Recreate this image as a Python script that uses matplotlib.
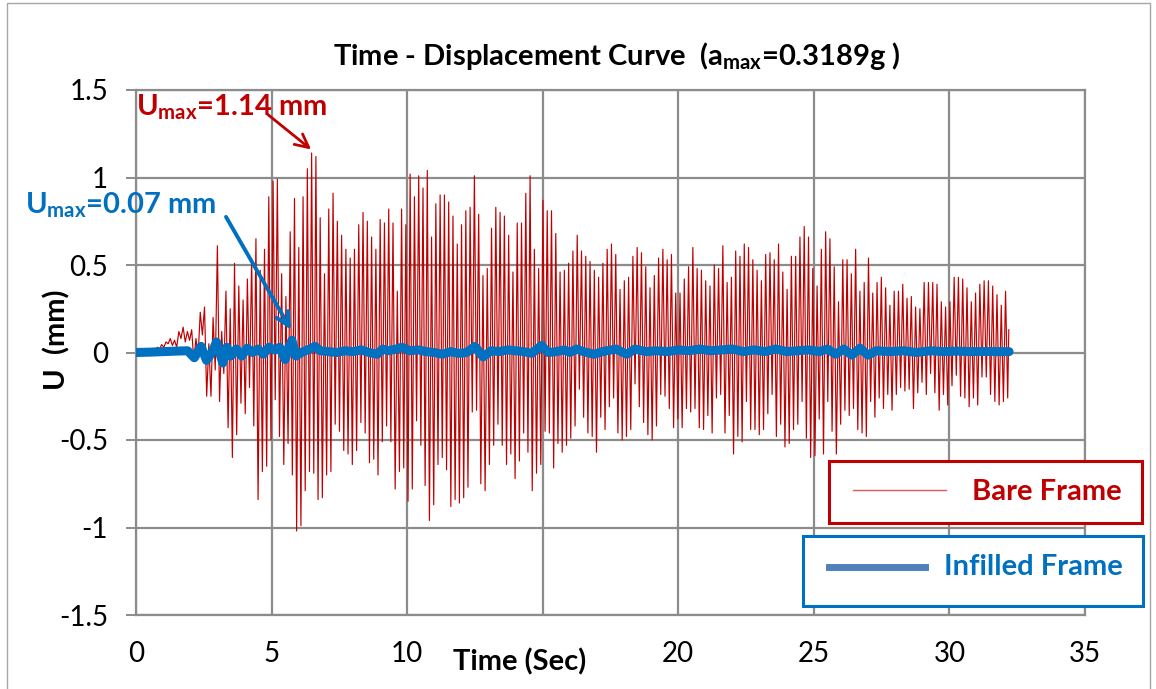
import numpy as np
import matplotlib
matplotlib.use("Agg")
import matplotlib.pyplot as plt
from matplotlib.patches import Rectangle
from matplotlib.lines import Line2D

# ---------------------------------------------------------------------------
# Data
# ---------------------------------------------------------------------------
# Bare frame: successive positive / negative displacement peaks (mm)
bare_pos_peaks = [
    0.005, 0.006, 0.008, 0.01, 0.02, 0.03, 0.045, 0.06, 0.08, 0.07,
    0.12, 0.145, 0.12, 0.13, 0.08, 0.23, 0.26, 0.05, 0.20, 0.61,
    0.12, 0.35, 0.25, 0.51, 0.38, 0.30, 0.42, 0.53, 0.65, 0.47,
    0.59, 0.89, 0.98, 0.99, 0.45, 0.32, 0.69, 0.88, 0.60, 0.89,
    1.05, 1.14,
    1.12, 0.77, 0.45, 0.82, 0.91, 0.75, 0.67, 0.59, 0.54, 0.59,
    0.73, 0.80, 0.75, 0.66, 0.59, 0.76, 0.74, 0.82, 0.74, 0.35,
    0.82, 0.73, 1.02, 0.89, 1.01,
    0.94, 1.04, 0.66, 0.85, 0.90, 0.90, 0.86, 0.78, 0.62, 0.73,
    0.81, 0.83, 1.01, 0.79, 0.44, 0.48, 0.71, 0.83, 0.80, 0.78,
    0.67, 0.46, 0.74, 0.74, 0.91, 1.01, 0.59, 0.48, 0.87, 0.81,
    0.81, 0.68, 0.46, 0.47, 0.51, 0.58, 0.67, 0.58, 0.55, 0.52,
    0.47, 0.43, 0.51, 0.59, 0.62, 0.56, 0.36, 0.41, 0.43, 0.55,
    0.60, 0.57, 0.49, 0.37, 0.44, 0.54, 0.59, 0.53, 0.56, 0.34,
    0.34, 0.42, 0.49,
    0.60, 0.48, 0.47, 0.41, 0.38, 0.50, 0.48, 0.61, 0.40, 0.43,
    0.58, 0.55, 0.62, 0.60, 0.53, 0.47, 0.41, 0.56, 0.57, 0.53,
    0.62, 0.46, 0.36, 0.55, 0.55, 0.66, 0.72, 0.66, 0.48, 0.38,
    0.59, 0.69, 0.65,
    0.49, 0.29, 0.53, 0.53, 0.45, 0.59, 0.35, 0.40, 0.54, 0.34,
    0.40, 0.43, 0.37, 0.27, 0.35, 0.35, 0.39, 0.31, 0.32, 0.26,
    0.25, 0.40, 0.40, 0.40, 0.39, 0.29, 0.26, 0.29, 0.43, 0.43,
    0.42, 0.37, 0.29, 0.34, 0.39, 0.41, 0.41, 0.38, 0.33, 0.27,
    0.35,
]
bare_neg_peaks = [
    0.0, 0.0, 0.002, 0.005, 0.01, 0.02, 0.03, 0.05, 0.04, 0.03,
    0.08, 0.06, 0.07, -0.05, -0.02, 0.10, -0.25, -0.25, -0.10, -0.28,
    -0.12, -0.43, -0.60, -0.47, -0.29, -0.35, -0.20, -0.42, -0.84, -0.68,
    -0.65, -0.50, -0.27, -0.48, -0.64, -0.52, -0.70, -1.02, -0.99, -0.79,
    -0.68, -0.69,
    -0.84, -0.83, -0.70, -0.68, -0.41, -0.45, -0.56, -0.58, -0.64, -0.56,
    -0.40, -0.46, -0.63, -0.61, -0.70, -0.51, -0.42, -0.51, -0.78, -0.68,
    -0.66, -0.85, -0.78, -0.39,
    -0.53, -0.76, -0.96, -0.87, -0.64, -0.60, -0.67, -0.88, -0.84, -0.86,
    -0.83, -0.77, -0.34, -0.33, -0.75, -0.79, -0.64, -0.53, -0.41, -0.53,
    -0.64, -0.58, -0.72, -0.62, -0.46, -0.57, -0.79, -0.69, -0.64, -0.45,
    -0.46,
    -0.66, -0.52, -0.57, -0.53, -0.49, -0.42, -0.21, -0.37, -0.46, -0.48,
    -0.57, -0.37, -0.44, -0.31, -0.26, -0.46, -0.50, -0.48, -0.44, -0.18,
    -0.31, -0.40, -0.47, -0.50, -0.42, -0.24, -0.25, -0.32, -0.43, -0.38,
    -0.43, -0.32,
    -0.34, -0.32, -0.43, -0.44, -0.36, -0.46, -0.26, -0.24, -0.46, -0.36,
    -0.58, -0.48, -0.51, -0.28, -0.44, -0.44, -0.47, -0.44, -0.35, -0.24,
    -0.48, -0.41, -0.54, -0.52, -0.44, -0.41, -0.28, -0.49, -0.60, -0.59,
    -0.38, -0.58, -0.28,
    -0.45, -0.58, -0.41, -0.33, -0.36, -0.32, -0.44, -0.46, -0.48, -0.28,
    -0.37, -0.26, -0.32, -0.24, -0.33, -0.24, -0.20, -0.22, -0.21, -0.32,
    -0.23, -0.17, -0.24, -0.12, -0.23, -0.33, -0.24, -0.30, -0.19, -0.13,
    -0.25, -0.26, -0.31, -0.26, -0.30, -0.14, -0.14, -0.24, -0.28, -0.30,
    -0.28, -0.26,
]
bare_first_peak_time = 0.0    # s
bare_last_peak_time = 32.07   # s
bare_end_time = 32.19         # s
bare_end_value = 0.13         # mm

# Infilled frame: time (s) and displacement (mm)
infill_time = [
    0.0, 0.5, 1.0, 1.5, 1.9, 2.15, 2.4, 2.6, 2.8, 2.97, 3.2, 3.35, 3.5,
    3.7, 3.9, 4.1, 4.3, 4.5, 4.7, 4.9, 5.1, 5.3, 5.5, 5.62, 5.75, 5.9,
    6.1, 6.4, 6.6, 6.8, 7.1, 7.4, 7.7, 8.0, 8.3, 8.6, 8.9, 9.1, 9.3,
    9.6, 9.8, 10.1, 10.4, 10.7, 11.0, 11.3, 11.6, 11.9, 12.2, 12.5,
    12.8, 13.1, 13.4, 13.7, 14.0, 14.3, 14.6, 14.95, 15.2, 15.5, 15.8,
    16.0, 16.25, 16.5, 16.9, 17.2, 17.7, 18.1, 18.4, 18.8, 19.2, 19.6,
    20.0, 20.4, 20.8, 21.2, 21.6, 22.0, 22.4, 22.8, 23.2, 23.6, 24.0,
    24.4, 24.8, 25.2, 25.5, 25.8, 26.1, 26.4, 26.7, 27.0, 27.3, 27.8,
    28.3, 28.8, 29.3, 29.8, 30.3, 30.8, 31.3, 31.8, 32.2,
]
infill_disp = [
    0.0, 0.002, 0.005, 0.008, 0.01, -0.03, 0.035, -0.045, 0.0, 0.06,
    -0.06, 0.03, -0.02, 0.02, -0.02, 0.025, 0.0, 0.02, -0.01, 0.03,
    0.015, 0.03, -0.04, 0.02, 0.07, -0.02, 0.0, 0.02, 0.035, 0.01,
    0.005, 0.0, 0.01, 0.005, 0.015, 0.0, -0.01, 0.02, 0.01, 0.02,
    0.03, 0.01, 0.015, 0.005, 0.0, -0.01, 0.005, -0.005, 0.0, 0.035,
    -0.025, 0.01, 0.005, 0.015, 0.01, 0.005, -0.005, 0.04, 0.0, 0.005,
    0.015, 0.0, 0.02, 0.005, -0.01, 0.005, 0.02, -0.01, 0.02, 0.005,
    0.01, 0.005, 0.015, 0.01, 0.02, 0.01, 0.015, 0.02, 0.005, 0.015,
    0.005, 0.02, 0.005, 0.01, 0.015, 0.005, 0.02, -0.01, 0.02, -0.015,
    0.025, -0.015, 0.01, 0.005, 0.01, 0.0, 0.01, 0.005, 0.008, 0.005,
    0.006, 0.005, 0.005,
]

x_ticks = [0, 5, 10, 15, 20, 25, 30, 35]
# the axis title sits over the 15 s position, so that label is left blank
x_tick_labels = ["0", "5", "10", "", "20", "25", "30", "35"]
y_ticks = [-1.5, -1, -0.5, 0, 0.5, 1, 1.5]
y_tick_labels = ["-1.5", "-1", "-0.5", "0", "0.5", "1", "1.5"]

series_names = ["Bare Frame", "Infilled Frame"]
bare_max = 1.14
infill_max = 0.07

# ---------------------------------------------------------------------------
# Build the bare-frame trace by alternating the peaks
# ---------------------------------------------------------------------------
t_pos = np.linspace(bare_first_peak_time, bare_last_peak_time, len(bare_pos_peaks))
half = (t_pos[1] - t_pos[0]) / 2.0
t_neg = t_pos + half
bare_t = np.empty(2 * len(t_pos))
bare_u = np.empty(2 * len(t_pos))
bare_t[0::2], bare_t[1::2] = t_pos, t_neg
bare_u[0::2], bare_u[1::2] = bare_pos_peaks, bare_neg_peaks
bare_t = np.append(bare_t, bare_end_time)
bare_u = np.append(bare_u, bare_end_value)

# ---------------------------------------------------------------------------
# Figure
# ---------------------------------------------------------------------------
plt.rcParams['font.family'] = ['Lato', 'DejaVu Sans']
plt.rcParams['mathtext.default'] = 'regular'

RED = '#C00000'
BLUE = '#0070C0'
GRID = '#8C8C8C'

W, H = 1156, 689
fig = plt.figure(figsize=(W / 100, H / 100), dpi=100)


def fx(px):
    return px / W


def fy(py):
    return 1 - py / H


ax = fig.add_axes([fx(136), fy(615), fx(1085) - fx(136), fy(90) - fy(615)])

ax.plot(bare_t, bare_u, color=RED, lw=0.85, zorder=3)
ax.plot(infill_time, infill_disp, color=BLUE, lw=6.5, solid_capstyle='round',
        solid_joinstyle='round', zorder=4)

ax.set_xlim(0, 35)
ax.set_ylim(-1.5, 1.5)
ax.set_xticks(x_ticks)
ax.set_xticklabels(x_tick_labels)
ax.set_yticks(y_ticks)
ax.set_yticklabels(y_tick_labels)
ax.grid(True, color=GRID, lw=1.6)
ax.set_axisbelow(True)
for s in ax.spines.values():
    s.set_color(GRID)
    s.set_linewidth(1.6)
ax.tick_params(axis='y', length=7, width=1.4, color=GRID, labelsize=20, pad=13)
ax.tick_params(axis='x', length=0, labelsize=20, pad=19)

ax.text((520 - 136) / 949, -(662 - 615) / 525, 'Time (Sec)', transform=ax.transAxes,
        ha='center', va='center', fontsize=21, fontweight='bold')
ax.text((57 - 136) / 949, (615 - 340) / 525, 'U  (mm)', transform=ax.transAxes,
        rotation=90, ha='center', va='center', fontsize=21, fontweight='bold')

fig.text(fx(617), fy(56), 'Time - Displacement Curve  (a$_{max}$=0.3189g )',
         ha='center', va='center', fontsize=21, fontweight='bold')

# Peak annotations
ax.text(0.0, 1.40, 'U$_{max}$=%.2f mm' % bare_max, color=RED, fontsize=21,
        fontweight='bold', ha='left', va='center', clip_on=False)
ax.annotate('', xy=(6.46, 1.16), xytext=(4.86, 1.36),
            arrowprops=dict(arrowstyle='->', color=RED, lw=2.0,
                            mutation_scale=24, shrinkA=0, shrinkB=0))

ax.text(-4.1, 0.84, 'U$_{max}$=%.2f mm' % infill_max, color=BLUE, fontsize=21,
        fontweight='bold', ha='left', va='center', clip_on=False)
ax.annotate('', xy=(5.72, 0.13), xytext=(3.32, 0.775),
            arrowprops=dict(arrowstyle='->', color=BLUE, lw=2.8,
                            mutation_scale=24, shrinkA=0, shrinkB=0))

# Legend boxes
fig.add_artist(Rectangle((fx(829), fy(523)), fx(1142) - fx(829), fy(461) - fy(523),
                         transform=fig.transFigure, facecolor='white',
                         edgecolor=RED, lw=2.2, zorder=5))
fig.add_artist(Line2D([fx(853), fx(946)], [fy(490), fy(490)],
                      transform=fig.transFigure, color='#E05858', lw=1.0, zorder=6))
fig.text(fx(1122), fy(492), series_names[0], ha='right', va='center', color=RED,
         fontsize=21, fontweight='bold', zorder=6)

fig.add_artist(Rectangle((fx(803), fy(606)), fx(1143) - fx(803), fy(536) - fy(606),
                         transform=fig.transFigure, facecolor='white',
                         edgecolor=BLUE, lw=2.2, zorder=5))
fig.add_artist(Line2D([fx(829), fx(925)], [fy(567), fy(567)],
                      transform=fig.transFigure, color='#4F81BD', lw=5.0, zorder=6))
fig.text(fx(1123), fy(567), series_names[1], ha='right', va='center', color=BLUE,
         fontsize=21, fontweight='bold', zorder=6)

# Chart-area frame
fig.add_artist(Rectangle((fx(7), -0.02), fx(1150) - fx(7), fy(3) + 0.02,
                         transform=fig.transFigure, fill=False,
                         edgecolor='#A6A6A6', lw=1.0, zorder=0))

fig.savefig('out.png', dpi=100)
